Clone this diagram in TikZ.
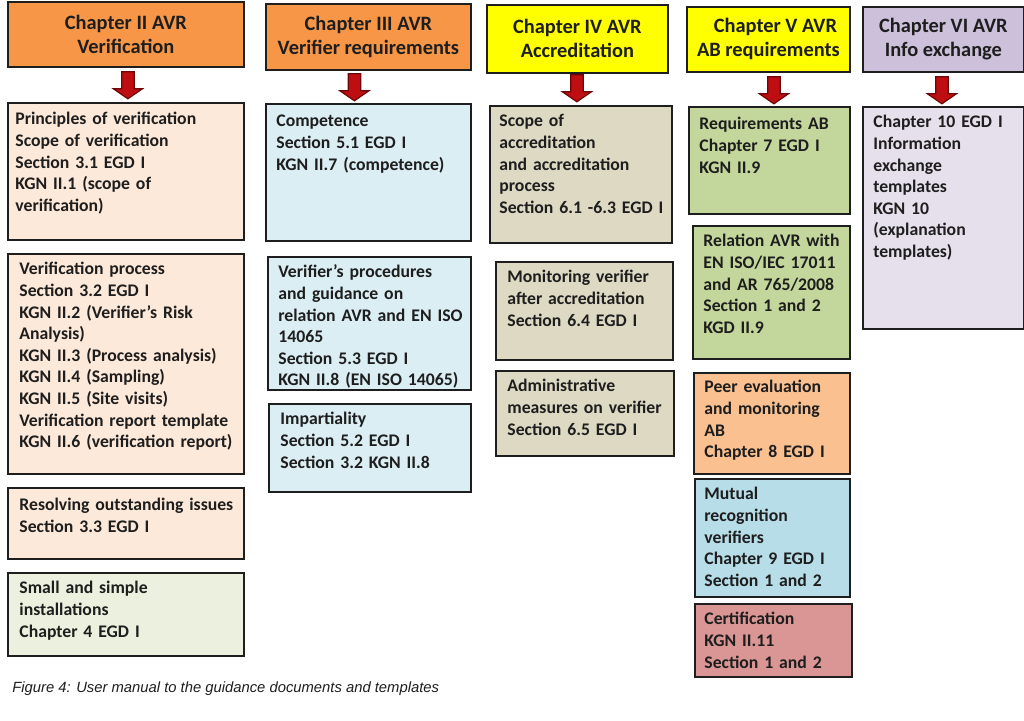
\documentclass[tikz,border=0pt]{standalone}
\usepackage{fontspec}
\setmainfont{Carlito}
\newfontfamily\capfont{Liberation Sans}
\usepackage{xcolor}
\definecolor{hdrorange}{HTML}{F79646}
\definecolor{hdryellow}{HTML}{FFFF00}
\definecolor{hdrlilac}{HTML}{CCC0DA}
\definecolor{peach}{HTML}{FDE9D9}
\definecolor{palegreen}{HTML}{EBF1DE}
\definecolor{paleblue}{HTML}{DBEEF4}
\definecolor{tan}{HTML}{DDD9C3}
\definecolor{olive}{HTML}{C3D69B}
\definecolor{apricot}{HTML}{FAC090}
\definecolor{aqua}{HTML}{B7DDE8}
\definecolor{rose}{HTML}{D99694}
\definecolor{lilac}{HTML}{E5E0EC}
\definecolor{ink}{HTML}{1E1E1E}
\definecolor{arrred}{HTML}{BE0E12}
\definecolor{arrdark}{HTML}{6E0608}
\usepackage{tikz}
\usetikzlibrary{positioning,calc}
\newcommand{\pxu}{0.5pt}
\tikzset{
  sz/.style 2 args={minimum width=#1*\pxu,minimum height=#2*\pxu},
  hdr/.style  ={draw=ink,line width=0.9pt,anchor=north west,inner sep=0pt,
                align=center,text=ink,font=\fontsize{10.2pt}{12pt}\selectfont\bfseries},
  box/.style  ={draw=ink,line width=0.9pt,anchor=north west,inner sep=0pt},
  txt/.style  ={anchor=base west,inner sep=0pt,text width=320*\pxu,align=left,
                text=ink,xshift=11*\pxu,yshift=-22*\pxu,
                font=\fontsize{8.85pt}{10.8pt}\selectfont\bfseries},
  arrline/.style={draw=arrdark,line width=0.6pt,fill=arrred,line join=miter},
  dnarrow/.pic={\draw[arrline] (-6.25,0) -- (6.25,0) -- (6.25,17) -- (14.5,17)
                 -- (0,27) -- (-14.5,17) -- (-6.25,17) -- cycle;},
}

\begin{document}
\begin{tikzpicture}[x=0.5pt,y=-0.5pt]
\useasboundingbox[fill=white] (0,0) rectangle (1024,721);
% chapter headers
\node[hdr,fill=hdrorange,sz={236}{65}] (h2) at (7,1) {Chapter II AVR\\Verification};
\node[hdr,fill=hdrorange,sz={205}{66}] (h3) at (265,3) {Chapter III AVR\\Verifier requirements};
\node[hdr,fill=hdryellow,sz={181}{68}] (h4) at (486,4) {Chapter IV AVR\\Accreditation};
\node[hdr,fill=hdryellow,sz={163}{65}] (h5) at (686,6) {\hspace*{7pt}Chapter V AVR\\AB requirements};
\node[hdr,fill=hdrlilac,sz={161}{65}] (h6) at (862,6) {Chapter VI AVR\\Info exchange};
% block arrows
\pic at ($(h2.south)+(2,4)$) {dnarrow};
\pic at ($(h3.south)+(-14,3)$) {dnarrow};
\pic at ($(h4.south)+(-0.5,1)$) {dnarrow};
\pic at ($(h5.south)+(5.5,4)$) {dnarrow};
\pic at ($(h6.south)+(-1.5,4)$) {dnarrow};
% chapter II column
\node[box,fill=peach,sz={236}{137},label={[txt,xshift=-3*\pxu,yshift=-1*\pxu]north west:{Principles of verification\\Scope of verification\\Section 3.1 EGD I\\KGN II.1 (scope of\\verification)}}] (c2a) at (7,102) {};
\node[box,fill=peach,sz={236}{220},label={[txt,xshift=1*\pxu]north west:{Verification process\\Section 3.2 EGD I\\KGN II.2 (Verifier’s Risk\\Analysis)\\KGN II.3 (Process analysis)\\KGN II.4 (Sampling)\\KGN II.5 (Site visits)\\Verification report template\\KGN II.6 (verification report)}}] (c2b) at (7,253) {};
\node[box,fill=peach,sz={236}{71},label={[txt,xshift=1*\pxu,yshift=-2*\pxu]north west:{Resolving outstanding issues\\Section 3.3 EGD I}}] (c2c) at (7,487) {};
\node[box,fill=palegreen,sz={236}{83},label={[txt,xshift=1*\pxu]north west:{Small and simple\\installations\\Chapter 4 EGD I}}] (c2d) at (7,572) {};
% chapter III column
\node[box,fill=paleblue,sz={205}{137},label={[txt,yshift=-2*\pxu]north west:{Competence\\Section 5.1 EGD I\\KGN II.7 (competence)}}] (c3a) at (265,103) {};
\node[box,fill=paleblue,sz={203}{133},label={[txt]north west:{Verifier’s procedures\\and guidance on\\relation AVR and EN ISO\\14065\\Section 5.3 EGD I\\KGN II.8 (EN ISO 14065)}}] (c3b) at (267,256) {};
\node[box,fill=paleblue,sz={202}{88},label={[txt,xshift=1*\pxu]north west:{Impartiality\\Section 5.2 EGD I\\Section 3.2 KGN II.8}}] (c3c) at (268,403) {};
% chapter IV column
\node[box,fill=tan,sz={182}{137},label={[txt,xshift=-1*\pxu]north west:{Scope of\\accreditation\\and accreditation\\process\\Section 6.1 -6.3 EGD I}}] (c4a) at (489,105) {};
\node[box,fill=tan,sz={177}{98},label={[txt,xshift=1*\pxu]north west:{Monitoring verifier\\after accreditation\\Section 6.4 EGD I}}] (c4b) at (495,261) {};
\node[box,fill=tan,sz={178}{85},label={[txt,xshift=1*\pxu]north west:{Administrative\\measures on verifier\\Section 6.5 EGD I}}] (c4c) at (495,370) {};
% chapter V column
\node[box,fill=olive,sz={161}{107},label={[txt,yshift=-2*\pxu]north west:{Requirements AB\\Chapter 7 EGD I\\KGN II.9}}] (c5a) at (688,106) {};
\node[box,fill=olive,sz={157}{133},label={[txt]north west:{Relation AVR with\\EN ISO/IEC 17011\\and AR 765/2008\\Section 1 and 2\\KGD II.9}}] (c5b) at (692,225) {};
\node[box,fill=apricot,sz={156}{101},label={[txt,yshift=1*\pxu]north west:{Peer evaluation\\and monitoring\\AB\\Chapter 8 EGD I}}] (c5c) at (693,372) {};
\node[box,fill=aqua,sz={155}{118},label={[txt,xshift=-1*\pxu]north west:{Mutual\\recognition\\verifiers\\Chapter 9 EGD I\\Section 1 and 2}}] (c5d) at (694,478) {};
\node[box,fill=rose,sz={157}{73},label={[txt,xshift=-1*\pxu]north west:{Certification\\KGN II.11\\Section 1 and 2}}] (c5e) at (694,603) {};
% chapter VI column
\node[box,fill=lilac,sz={161}{222},label={[txt]north west:{Chapter 10 EGD I\\Information\\exchange\\templates\\KGN 10\\(explanation\\templates)}}] (c6a) at (862,106) {};
% caption
\node[anchor=base west,inner sep=0pt,text=ink,font=\capfont\itshape\fontsize{7.4pt}{9pt}\selectfont] (cap) at (12,693) {Figure 4: User manual to the guidance documents and templates};
\end{tikzpicture}
\end{document}
